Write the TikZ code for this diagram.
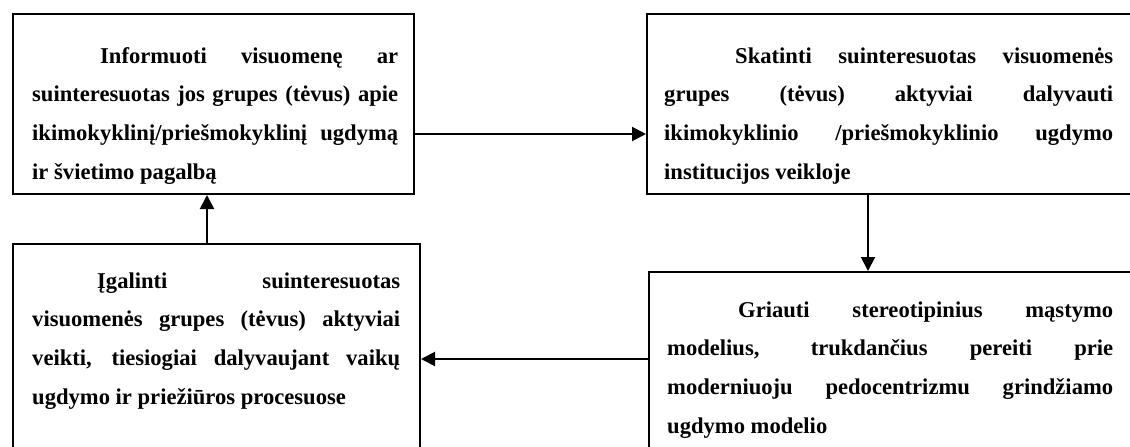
\documentclass[tikz,border=0pt]{standalone}
\usepackage{fontspec}
\setmainfont{Liberation Serif}
\usetikzlibrary{arrows.meta}
\newcommand{\jl}[2]{\makebox[#1][s]{#2}}
\tikzset{
  box/.style={draw, line width=2pt, rectangle, inner sep=0pt, anchor=north west},
  txt/.style={inner sep=0pt, anchor=base west, font=\fontsize{22.6}{38.7}\selectfont\bfseries},
  arr/.style={line width=2pt, -{Triangle[length=14pt,width=14pt]}}
}
\begin{document}
\begin{tikzpicture}[x=1pt,y=-1pt]
\clip (0,0) rectangle (1130,447);
\fill[white] (0,0) rectangle (1130,447);
% boxes
\node[box, minimum width=401pt, minimum height=180pt] (a) at (12,13) {};
\node[box, minimum width=494pt, minimum height=180pt] (b) at (646,13) {};
\node[box, minimum width=407pt, minimum height=217pt] (c) at (12,243) {};
\node[box, minimum width=492pt, minimum height=189pt] (d) at (648,271) {};
% texts
\node[txt] (ta) at (32,63) {\parbox[t]{366pt}{%
\jl{366pt}{\hspace*{68pt}Informuoti visuomenę ar}\\
\jl{366pt}{suinteresuotas jos grupes (tėvus) apie}\\
\jl{366pt}{ikimokyklinį/priešmokyklinį ugdymą}\\
ir švietimo pagalbą}};
\node[txt] (tb) at (664,63) {\parbox[t]{449pt}{%
\jl{449pt}{\hspace*{71pt}Skatinti suinteresuotas visuomenės}\\
\jl{449pt}{grupes (tėvus) aktyviai dalyvauti}\\
\jl{449pt}{ikimokyklinio /priešmokyklinio ugdymo}\\
institucijos veikloje}};
\node[txt] (tc) at (32,288) {\parbox[t]{368pt}{%
\jl{368pt}{\hspace*{65pt}Įgalinti suinteresuotas}\\
\jl{368pt}{visuomenės grupes (tėvus) aktyviai}\\
\jl{368pt}{veikti, tiesiogiai dalyvaujant vaikų}\\
ugdymo ir priežiūros procesuose}};
\node[txt] (td) at (667,317) {\parbox[t]{446pt}{%
\jl{446pt}{\hspace*{71pt}Griauti stereotipinius mąstymo}\\
\jl{446pt}{modelius, trukdančius pereiti prie}\\
\jl{446pt}{moderniuoju pedocentrizmu grindžiamo}\\
ugdymo modelio}};
% connector guides
\coordinate (bd) at (868,0);
\coordinate (dc) at (0,359);
\coordinate (ca) at (207,0);
% connectors
\draw[arr] ([yshift=-30pt]a.east) -- ([yshift=-30pt]b.west);
\draw[arr] (b.south -| bd) -- (d.north -| bd);
\draw[arr] (d.west |- dc) -- (c.east |- dc);
\draw[arr] (c.north -| ca) -- (a.south -| ca);
\end{tikzpicture}
\end{document}
